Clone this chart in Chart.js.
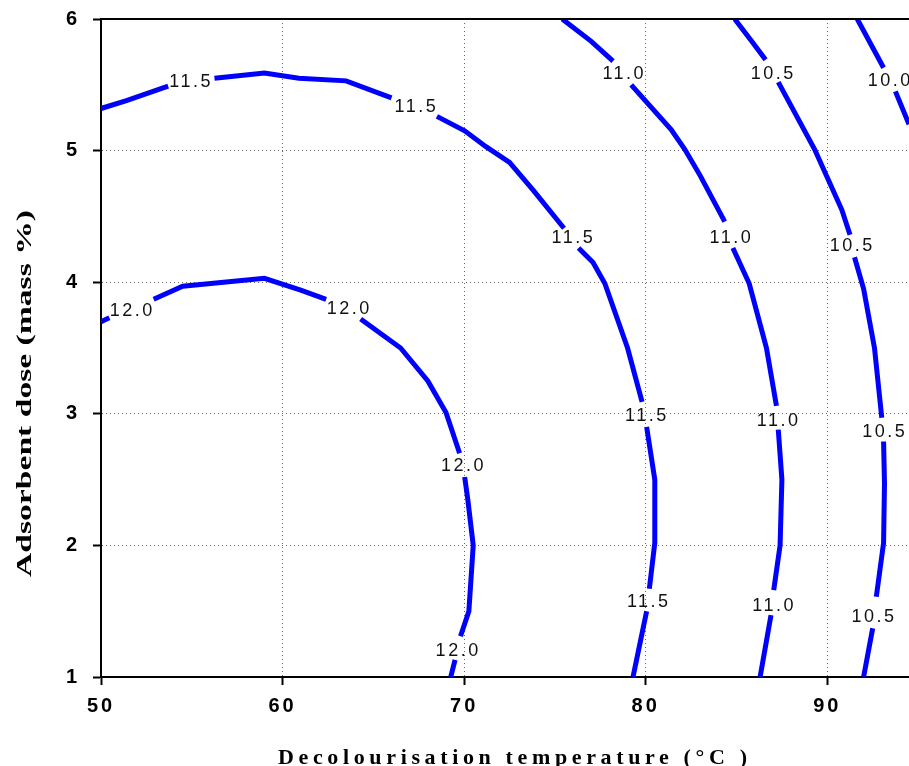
<!DOCTYPE html>
<html>
<head>
<meta charset="utf-8">
<script src="https://cdn.jsdelivr.net/npm/chart.js@4/dist/chart.umd.min.js"></script>
<style>
html,body{margin:0;padding:0;background:#fff;}
#wrap{width:909px;height:766px;}
</style>
</head>
<body>
<div id="wrap"><canvas id="c" width="909" height="766"></canvas></div>
<script>
// ---- data ----
const xTickValues = [50, 60, 70, 80, 90];
const yTickValues = [1, 2, 3, 4, 5, 6];

// contour 12.0 (null = break for label)
const c120X = [50, 50.46, null, 52.9, 54.5, 59.0, 61.0, 62.4, null, 64.3, 66.5, 68.0, 69.0, 69.75, null, 70.03, 70.2, 70.5, 70.26, 69.8, null, 69.5, 69.26];
const c120Y = [3.70, 3.73, null, 3.87, 3.97, 4.03, 3.94, 3.87, null, 3.72, 3.50, 3.25, 3.01, 2.70, null, 2.52, 2.35, 2.0, 1.50, 1.31, null, 1.13, 1.0];
// contour 11.5
const c115X = [50, 51.4, 53.7, null, 56.25, 59.0, 60.9, 63.5, 66.0, null, 68.5, 70.03, 71.2, 72.5, 73.8, 75.5, null, 76.3, 77.1, 77.75, 79.0, 79.8, null, 80.05, 80.5, 80.5, 80.2, null, 80.05, 79.3];
const c115Y = [5.32, 5.38, 5.49, null, 5.55, 5.59, 5.55, 5.53, 5.40, null, 5.26, 5.15, 5.03, 4.91, 4.70, 4.41, null, 4.26, 4.15, 3.99, 3.50, 3.09, null, 2.90, 2.50, 2.02, 1.67, null, 1.50, 1.0];
// contour 11.0
const c110X = [75.4, 77.0, 78.2, null, 79.2, 81.4, 82.15, 83.0, 84.35, null, 84.8, 85.7, 86.65, 87.2, null, 87.3, 87.5, 87.4, 87.05, null, 86.9, 86.3];
const c110Y = [6.0, 5.83, 5.68, null, 5.50, 5.16, 5.01, 4.81, 4.46, null, 4.26, 3.99, 3.50, 3.06, null, 2.88, 2.50, 2.0, 1.66, null, 1.47, 1.0];
// contour 10.5
const c105X = [84.9, 85.9, 86.6, null, 87.3, 89.3, 90.05, 90.8, 91.25, null, 91.5, 92.0, 92.6, 93.0, null, 93.1, 93.15, 93.1, 92.7, null, 92.5, 92.0];
const c105Y = [6.0, 5.82, 5.69, null, 5.52, 5.01, 4.78, 4.55, 4.36, null, 4.19, 3.95, 3.50, 2.97, null, 2.79, 2.47, 2.02, 1.61, null, 1.37, 1.0];
// contour 10.0
const c100X = [91.65, 93.1, null, 93.75, 94.5];
const c100Y = [6.0, 5.63, null, 5.45, 5.20];

// contour labels
const labelText = ['12.0','12.0','12.0','12.0','11.5','11.5','11.5','11.5','11.5','11.0','11.0','11.0','11.0','10.5','10.5','10.5','10.5','10.0'];
const labelX = [51.65, 63.6, 69.9, 69.6, 54.9, 67.3, 75.95, 80.0, 80.1, 78.75, 84.65, 87.25, 87.0, 86.95, 91.3, 93.1, 92.5, 93.4];
const labelY = [3.79, 3.80, 2.61, 1.205, 5.53, 5.34, 4.34, 2.99, 1.58, 5.59, 4.34, 2.955, 1.55, 5.59, 4.28, 2.87, 1.46, 5.54];

const xTitle = 'Decolourisation temperature (°C )';
const yTitle = 'Adsorbent dose (mass %)';

// ---- build ----
const contourSeries = [[c120X, c120Y], [c115X, c115Y], [c110X, c110Y], [c105X, c105Y], [c100X, c100Y]];
const datasets = contourSeries.map(([xs, ys]) => ({
  data: xs.map((x, i) => ({x: x, y: ys[i]})),
  showLine: true,
  borderColor: '#0000ff',
  borderWidth: 5,
  pointRadius: 0,
  pointHoverRadius: 0,
  spanGaps: false,
  fill: false,
  tension: 0
}));

const tickFont = {family: '"Liberation Sans", Arial, sans-serif', size: 20, weight: 'bold'};

const tickSpacing = {
  id: 'tickSpacing',
  beforeDraw(chart) { chart.ctx.letterSpacing = '3px'; },
  beforeDatasetsDraw(chart) { chart.ctx.letterSpacing = '0px'; }
};

const topBorder = {
  id: 'topBorder',
  afterDraw(chart) {
    const {ctx, chartArea} = chart;
    ctx.save();
    ctx.strokeStyle = '#000';
    ctx.lineWidth = 2;
    ctx.beginPath();
    ctx.moveTo(chartArea.left - 1, chartArea.top);
    ctx.lineTo(chartArea.right, chartArea.top);
    ctx.stroke();
    ctx.restore();
  }
};

const contourLabels = {
  id: 'contourLabels',
  afterDatasetsDraw(chart) {
    const {ctx, scales} = chart;
    ctx.save();
    ctx.font = '18px "Liberation Sans", Arial, sans-serif';
    ctx.fillStyle = '#111';
    ctx.textAlign = 'center';
    ctx.textBaseline = 'middle';
    const sp = 2.5;
    ctx.letterSpacing = sp + 'px';
    labelText.forEach((t, i) => {
      const px = scales.x.getPixelForValue(labelX[i]);
      const py = scales.y.getPixelForValue(labelY[i]);
      ctx.fillText(t, px + sp / 2, py + 1);
    });
    ctx.restore();
  }
};

const axisTitles = {
  id: 'axisTitles',
  afterDraw(chart) {
    const {ctx} = chart;
    ctx.save();
    ctx.fillStyle = '#000';
    ctx.textBaseline = 'alphabetic';
    ctx.textAlign = 'left';
    // x title: letter-spaced to span the reference width
    ctx.font = 'bold 22px "Liberation Serif", "Times New Roman", serif';
    ctx.letterSpacing = '0px';
    const wx = ctx.measureText(xTitle).width;
    const n = [...xTitle].length;
    ctx.letterSpacing = ((469 - wx) / (n - 1)) + 'px';
    ctx.fillText(xTitle, 278, 764);
    // y title: elongated along its length
    ctx.font = 'bold 22px "Liberation Serif", "Times New Roman", serif';
    ctx.letterSpacing = '0px';
    const wy = ctx.measureText(yTitle).width;
    ctx.translate(31, 577);
    ctx.rotate(-Math.PI / 2);
    ctx.scale(367 / wy, 1);
    ctx.fillText(yTitle, 0, 0);
    ctx.restore();
  }
};

new Chart(document.getElementById('c'), {
  type: 'scatter',
  data: {datasets},
  options: {
    responsive: false,
    animation: false,
    events: [],
    layout: {padding: {top: 19, right: 0, left: 0, bottom: 0}},
    plugins: {legend: {display: false}, tooltip: {enabled: false}, title: {display: false}},
    scales: {
      x: {
        type: 'linear', min: 50, max: 94.5,
        afterBuildTicks: s => { s.ticks = xTickValues.map(v => ({value: v})); },
        afterFit: s => { s.height = 89; s.paddingLeft = 0; s.paddingRight = 0; },
        grid: {color: '#666', lineWidth: 1, tickColor: '#000', tickLength: 8, tickWidth: 2, tickBorderDash: []},
        border: {display: true, color: '#000', width: 2, dash: [1, 3]},
        ticks: {color: '#000', font: tickFont, padding: 9, maxRotation: 0, autoSkip: false}
      },
      y: {
        type: 'linear', min: 1, max: 6,
        afterBuildTicks: s => { s.ticks = yTickValues.map(v => ({value: v})); },
        afterFit: s => { s.width = 101; s.paddingTop = 0; s.paddingBottom = 0; },
        grid: {color: '#666', lineWidth: 1, tickColor: '#000', tickLength: 8, tickWidth: 2, tickBorderDash: []},
        border: {display: true, color: '#000', width: 2, dash: [1, 3]},
        ticks: {color: '#000', font: tickFont, padding: 13, autoSkip: false}
      }
    }
  },
  plugins: [tickSpacing, topBorder, contourLabels, axisTitles]
});
</script>
</body>
</html>
